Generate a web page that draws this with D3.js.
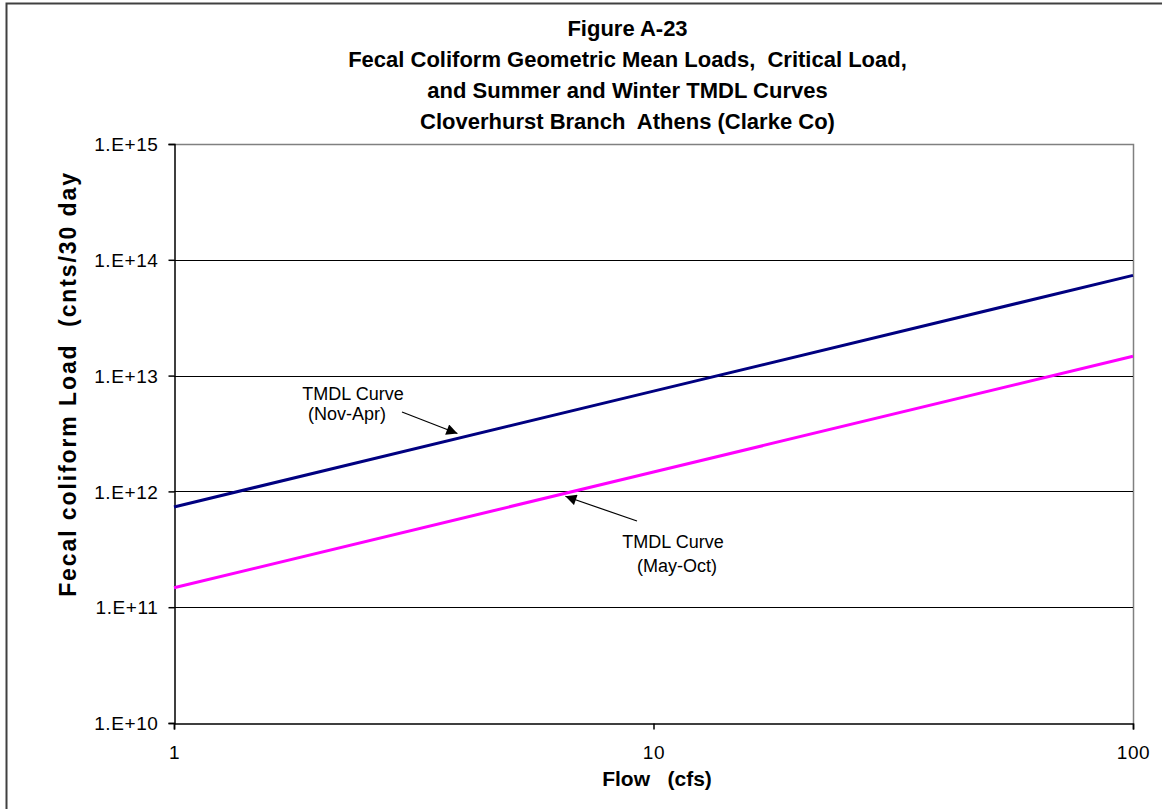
<!DOCTYPE html>
<html>
<head>
<meta charset="utf-8">
<script src="https://cdn.jsdelivr.net/npm/d3@7"></script>
<style>
  html, body { margin: 0; padding: 0; background: #fff; }
  svg { display: block; font-family: Arial, "Liberation Sans", sans-serif; }
  svg text { white-space: pre; }
</style>
</head>
<body>
<svg id="chart" width="1162" height="809"></svg>
<script>
// Flow (cfs) at which the TMDL curves are evaluated
const flows = [1, 10, 100];
// Winter (Nov-Apr) TMDL load, counts per 30 days
const winterLoads = [7.34e11, 7.34e12, 7.34e13];
// Summer (May-Oct) TMDL load, counts per 30 days
const summerLoads = [1.47e11, 1.47e12, 1.47e13];

const xTicks = [1, 10, 100];
const yTicks = [1e10, 1e11, 1e12, 1e13, 1e14, 1e15];
const yTickLabels = ["1.E+10", "1.E+11", "1.E+12", "1.E+13", "1.E+14", "1.E+15"];

const titleLines = [
  "Figure A-23",
  "Fecal Coliform Geometric Mean Loads,  Critical Load,",
  "and Summer and Winter TMDL Curves",
  "Cloverhurst Branch  Athens (Clarke Co)"
];

const svg = d3.select("#chart");
const W = 1162, H = 809;
const plot = { left: 174, right: 1133, top: 144, bottom: 723 };

const x = d3.scaleLog().domain([1, 100]).range([plot.left, plot.right]);
const y = d3.scaleLog().domain([1e10, 1e15]).range([plot.bottom, plot.top]);

// chart frame
svg.append("rect").attr("width", W).attr("height", H).attr("fill", "#fff");
svg.append("rect")
  .attr("x", 6.5).attr("y", 3.5).attr("width", W + 10).attr("height", H + 10)
  .attr("fill", "none").attr("stroke", "#404040").attr("stroke-width", 2);

// title
svg.append("g").selectAll("text").data(titleLines).join("text")
  .attr("x", 627.5)
  .attr("y", (d, i) => 36 + i * 31)
  .attr("text-anchor", "middle")
  .attr("font-size", 22)
  .attr("font-weight", "bold")
  .text(d => d);

// plot area: top and right edges in grey
svg.append("path")
  .attr("d", `M${plot.left},${y(1e15) + 0.5}H${plot.right + 0.5}V${plot.bottom}`)
  .attr("fill", "none").attr("stroke", "#808080").attr("stroke-width", 1.5);

// horizontal gridlines
svg.append("g").selectAll("line").data(yTicks.filter(v => v > 1e10 && v < 1e15)).join("line")
  .attr("x1", plot.left).attr("x2", plot.right)
  .attr("y1", d => Math.round(y(d)) + 0.5).attr("y2", d => Math.round(y(d)) + 0.5)
  .attr("stroke", "#000").attr("stroke-width", 1.2);

// y axis
const yAxis = d3.axisLeft(y).tickValues(yTicks).tickSize(6).tickPadding(10)
  .tickFormat((d, i) => yTickLabels[i]);
const gy = svg.append("g").attr("transform", `translate(${plot.left + 0.5},0)`).call(yAxis);
gy.select(".domain").attr("stroke", "#000").attr("stroke-width", 1.5);
gy.selectAll(".tick line").attr("stroke", "#000").attr("stroke-width", 1.5);
gy.selectAll(".tick text").attr("font-size", 19).attr("letter-spacing", 0.6)
  .attr("font-family", "Arial, 'Liberation Sans', sans-serif")
  .attr("fill", "#000").attr("dy", "0.35em");

// x axis
const xAxis = d3.axisBottom(x).tickValues(xTicks).tickSize(6).tickPadding(16)
  .tickFormat(d3.format("d"));
const gx = svg.append("g").attr("transform", `translate(0,${plot.bottom + 0.5})`).call(xAxis);
gx.select(".domain").attr("stroke", "#000").attr("stroke-width", 1.5);
gx.selectAll(".tick line").attr("stroke", "#000").attr("stroke-width", 1.5);
gx.selectAll(".tick text").attr("font-size", 19).attr("letter-spacing", 0.6)
  .attr("font-family", "Arial, 'Liberation Sans', sans-serif")
  .attr("fill", "#000");

// axis titles
svg.append("text")
  .attr("x", 657).attr("y", 786)
  .attr("text-anchor", "middle").attr("font-size", 21).attr("font-weight", "bold")
  .text("Flow   (cfs)");
svg.append("text")
  .attr("transform", "translate(76,384) rotate(-90)")
  .attr("text-anchor", "middle").attr("font-size", 23).attr("font-weight", "bold")
  .attr("letter-spacing", 1.9)
  .text("Fecal coliform Load  (cnts/30 day");

// TMDL curves
const line = d3.line().x(d => x(d[0])).y(d => y(d[1]));
svg.append("path")
  .attr("d", line(d3.zip(flows, summerLoads)))
  .attr("fill", "none").attr("stroke", "#FF00FF").attr("stroke-width", 3);
svg.append("path")
  .attr("d", line(d3.zip(flows, winterLoads)))
  .attr("fill", "none").attr("stroke", "#000080").attr("stroke-width", 3);

// arrowhead
svg.append("defs").append("marker")
  .attr("id", "head").attr("viewBox", "0 0 10 10")
  .attr("refX", 10).attr("refY", 5)
  .attr("markerWidth", 14).attr("markerHeight", 11)
  .attr("markerUnits", "userSpaceOnUse")
  .attr("orient", "auto")
  .append("path").attr("d", "M0,0L10,5L0,10Z").attr("fill", "#000");

// curve annotations: arrow tips sit on the curves
function winterAt(q) { return winterLoads[0] * q / flows[0]; }
function summerAt(q) { return summerLoads[0] * q / flows[0]; }

const winterTip = [x(3.9), y(winterAt(3.9)) - 5];
const summerTip = [x(6.55), y(summerAt(6.55)) + 3];

svg.append("line")
  .attr("x1", 402).attr("y1", 412).attr("x2", winterTip[0]).attr("y2", winterTip[1])
  .attr("stroke", "#000").attr("stroke-width", 1.2).attr("marker-end", "url(#head)");
svg.append("line")
  .attr("x1", 637).attr("y1", 521).attr("x2", summerTip[0]).attr("y2", summerTip[1])
  .attr("stroke", "#000").attr("stroke-width", 1.2).attr("marker-end", "url(#head)");

const notes = [
  { lines: ["TMDL Curve", "(Nov-Apr)"], cx: [353, 347], by: [400, 420] },
  { lines: ["TMDL Curve", "(May-Oct)"], cx: [673, 677], by: [548, 572] }
];
notes.forEach(n => {
  n.lines.forEach((t, i) => {
    svg.append("text")
      .attr("x", n.cx[i]).attr("y", n.by[i])
      .attr("text-anchor", "middle").attr("font-size", 18)
      .text(t);
  });
});
</script>
</body>
</html>
